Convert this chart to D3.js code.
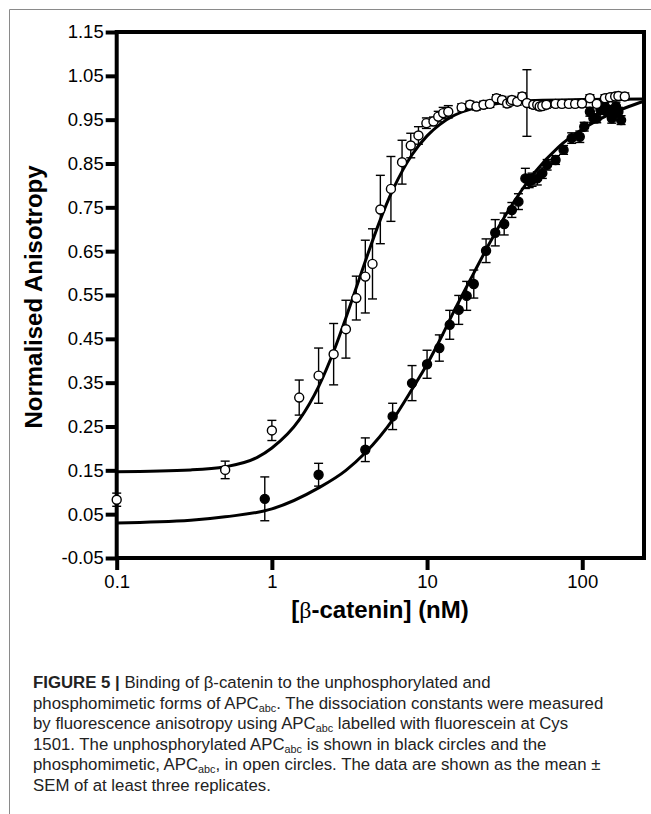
<!DOCTYPE html>
<html>
<head>
<meta charset="utf-8">
<script src="https://cdn.jsdelivr.net/npm/d3@7"></script>
<style>
  html, body { margin: 0; padding: 0; background: #fff; }
  svg { display: block; font-family: "Liberation Sans", Arial, sans-serif; }
</style>
</head>
<body>
<script>
// open circles: phosphomimetic APCabc
const openConc = [0.1, 0.5, 1.0, 1.5, 2.0, 2.5, 3.0, 3.5, 4.0, 4.45, 5.0, 5.85, 6.9, 7.85, 8.8, 9.9, 11, 11.8, 12.7, 13.7,
  16.7, 18.9, 20.8, 23.1, 25.4, 28, 30.4, 32.8, 34.6, 35.2, 38.1, 41, 44, 48.4, 51.3, 53.2, 55.3, 58.7, 67.3, 74, 82, 90,
  99.6, 112, 124, 140, 151, 163, 171, 188];
const openMean = [0.083, 0.151, 0.241, 0.316, 0.366, 0.415, 0.472, 0.543, 0.592, 0.621, 0.745, 0.792, 0.853, 0.891, 0.914, 0.942, 0.946, 0.957, 0.965, 0.968,
  0.978, 0.984, 0.980, 0.984, 0.986, 0.999, 0.995, 0.987, 0.991, 0.995, 0.991, 1.003, 0.988, 0.984, 0.984, 0.980, 0.981, 0.984, 0.986, 0.986, 0.986, 0.986,
  0.987, 0.999, 0.986, 0.999, 1.001, 1.003, 1.004, 1.003];
const openSem = [0.015, 0.02, 0.023, 0.04, 0.063, 0.07, 0.066, 0.05, 0.083, 0.08, 0.078, 0.074, 0.05, 0.028, 0.02, 0.012, 0.01, 0.012, 0.013, 0.014,
  0.008, 0.008, 0.008, 0.008, 0.008, 0.008, 0.008, 0.008, 0.008, 0.008, 0.008, 0.008, 0.076, 0.008, 0.008, 0.008, 0.008, 0.008, 0.008, 0.008, 0.008, 0.008,
  0.008, 0.008, 0.008, 0.008, 0.008, 0.008, 0.008, 0.008];

// filled circles: unphosphorylated APCabc
const filledConc = [0.9, 2.0, 4.0, 6.0, 8.0, 10, 12, 14, 16, 18, 20, 24, 27.5, 31.4, 35.2, 38.8, 43, 45.5, 47.5, 51.3, 55.3, 59.4,
  67.3, 75.8, 85.5, 96.4, 103, 112, 118, 124, 131, 140, 145, 151, 155, 158, 165, 171, 178];
const filledMean = [0.085, 0.140, 0.197, 0.273, 0.349, 0.392, 0.429, 0.482, 0.516, 0.548, 0.575, 0.651, 0.692, 0.712, 0.744, 0.763, 0.816, 0.810, 0.813, 0.816, 0.828, 0.847,
  0.858, 0.881, 0.908, 0.911, 0.934, 0.968, 0.953, 0.953, 0.972, 0.980, 0.968, 0.972, 0.953, 0.965, 0.980, 0.968, 0.949];
const filledSem = [0.05, 0.026, 0.027, 0.03, 0.04, 0.032, 0.03, 0.033, 0.033, 0.033, 0.032, 0.027, 0.03, 0.025, 0.017, 0.018, 0.023, 0.015, 0.015, 0.015, 0.012, 0.012,
  0.01, 0.01, 0.012, 0.013, 0.01, 0.01, 0.01, 0.01, 0.01, 0.01, 0.01, 0.01, 0.011, 0.01, 0.01, 0.01, 0.01];

// fitted binding curves
const openFitConc = [0.1, 0.3, 0.5, 0.8, 1, 1.5, 2, 2.5, 3, 3.5, 4, 5, 6, 7, 8, 10, 12, 15, 20, 30, 50, 100, 250];
const openFitValue = [0.147, 0.151, 0.158, 0.179, 0.201, 0.265, 0.341, 0.421, 0.498, 0.567, 0.627, 0.722, 0.789, 0.836, 0.870, 0.913, 0.938, 0.960, 0.976, 0.988, 0.994, 0.996, 0.997];
const filledFitConc = [0.1, 0.3, 0.5, 1, 2, 3, 4, 6, 8, 10, 12, 15, 20, 25, 30, 40, 50, 70, 100, 150, 200, 250];
const filledFitValue = [0.030, 0.036, 0.044, 0.062, 0.110, 0.150, 0.190, 0.265, 0.335, 0.392, 0.445, 0.515, 0.600, 0.665, 0.715, 0.785, 0.832, 0.887, 0.928, 0.962, 0.980, 0.992];

const yTicks = [-0.05, 0.05, 0.15, 0.25, 0.35, 0.45, 0.55, 0.65, 0.75, 0.85, 0.95, 1.05, 1.15];
const xTicks = [0.1, 1, 10, 100];
const xTickLabels = ["0.1", "1", "10", "100"];

const captionLines = [
  [{ t: "FIGURE 5 |", b: true }, { t: " Binding of β-catenin to the unphosphorylated and" }],
  [{ t: "phosphomimetic forms of APC" }, { t: "abc", sub: true }, { t: ". The dissociation constants were measured" }],
  [{ t: "by fluorescence anisotropy using APC" }, { t: "abc", sub: true }, { t: " labelled with fluorescein at Cys" }],
  [{ t: "1501. The unphosphorylated APC" }, { t: "abc", sub: true }, { t: " is shown in black circles and the" }],
  [{ t: "phosphomimetic, APC" }, { t: "abc", sub: true }, { t: ", in open circles. The data are shown as the mean ±" }],
  [{ t: "SEM of at least three replicates." }]
];

const svg = d3.select("body").append("svg").attr("width", 651).attr("height", 814);

// page frame
svg.append("path")
  .attr("d", "M9.5,814 V9.5 H651")
  .attr("fill", "none")
  .attr("stroke", "#8a8a8a")
  .attr("stroke-width", 1);

const x = d3.scaleLog().domain([0.1, 250]).range([116.7, 644]);
const y = d3.scaleLinear().domain([-0.05, 1.15]).range([558, 32]);

// axes
const yAxis = svg.append("g")
  .attr("transform", "translate(116.7,0)")
  .call(d3.axisLeft(y).tickValues(yTicks).tickSize(11).tickSizeOuter(0).tickPadding(2)
    .tickFormat(d => d.toFixed(2).replace("\u2212", "-")));
const xAxis = svg.append("g")
  .attr("transform", "translate(0,558)")
  .call(d3.axisBottom(x).tickValues(xTicks).tickSize(12).tickSizeOuter(0).tickPadding(5)
    .tickFormat((d, i) => xTickLabels[i]));

[yAxis, xAxis].forEach(g => {
  g.select(".domain").remove();
  g.selectAll(".tick line").attr("stroke", "#000").attr("stroke-width", 4);
  g.selectAll(".tick text")
    .attr("fill", "#000")
    .style("font-size", "18.5px")
    .style("font-family", "'Liberation Sans', Arial, sans-serif");
});

svg.append("rect")
  .attr("x", x.range()[0]).attr("y", y.range()[1])
  .attr("width", x.range()[1] - x.range()[0])
  .attr("height", y.range()[0] - y.range()[1])
  .attr("fill", "none")
  .attr("stroke", "#000")
  .attr("stroke-width", 4);

// fitted curves
const line = d3.line().x(d => x(d[0])).y(d => y(d[1])).curve(d3.curveMonotoneX);
[[openFitConc, openFitValue], [filledFitConc, filledFitValue]].forEach(([cx, cy]) => {
  svg.append("path")
    .datum(cx.map((c, i) => [c, cy[i]]))
    .attr("d", line)
    .attr("fill", "none")
    .attr("stroke", "#000")
    .attr("stroke-width", 3);
});

function drawSeries(conc, mean, sem, fill) {
  const data = conc.map((c, i) => ({ c: c, m: mean[i], s: sem[i] }));
  const g = svg.append("g");
  const bars = g.selectAll(".err").data(data).enter().append("g").attr("class", "err")
    .attr("stroke", "#000").attr("stroke-width", 1.4);
  bars.append("line")
    .attr("x1", d => x(d.c)).attr("x2", d => x(d.c))
    .attr("y1", d => y(d.m + d.s)).attr("y2", d => y(d.m - d.s));
  [1, -1].forEach(sign => {
    bars.append("line")
      .attr("x1", d => x(d.c) - 4.5).attr("x2", d => x(d.c) + 4.5)
      .attr("y1", d => y(d.m + sign * d.s)).attr("y2", d => y(d.m + sign * d.s));
  });
  g.selectAll("circle").data(data).enter().append("circle")
    .attr("cx", d => x(d.c))
    .attr("cy", d => y(d.m))
    .attr("r", 4.5)
    .attr("fill", fill)
    .attr("stroke", "#000")
    .attr("stroke-width", 1.4);
}

drawSeries(filledConc, filledMean, filledSem, "#000");
drawSeries(openConc, openMean, openSem, "#fff");

// axis titles
svg.append("text")
  .attr("transform", "translate(42,297) rotate(-90)")
  .attr("text-anchor", "middle")
  .style("font-size", "24px")
  .style("font-weight", "bold")
  .text("Normalised Anisotropy");

const xt = svg.append("text")
  .attr("x", 380).attr("y", 618)
  .attr("text-anchor", "middle")
  .style("font-size", "24px")
  .style("font-weight", "bold");
xt.append("tspan").text("[");
xt.append("tspan").style("font-weight", "normal").style("font-family", "'Liberation Serif', serif").text("β");
xt.append("tspan").text("-catenin] (nM)");

// caption
captionLines.forEach((segs, i) => {
  const t = svg.append("text")
    .attr("x", 33).attr("y", 688 + i * 20.6)
    .style("font-size", "16.8px")
    .attr("fill", "#222");
  segs.forEach((s, j) => {
    const ts = t.append("tspan").text(s.t);
    if (s.b) ts.style("font-weight", "bold");
    if (s.sub) ts.style("font-size", "10.8px").attr("dy", 3);
    else if (j > 0 && segs[j - 1].sub) ts.attr("dy", -3);
  });
});
</script>
</body>
</html>
